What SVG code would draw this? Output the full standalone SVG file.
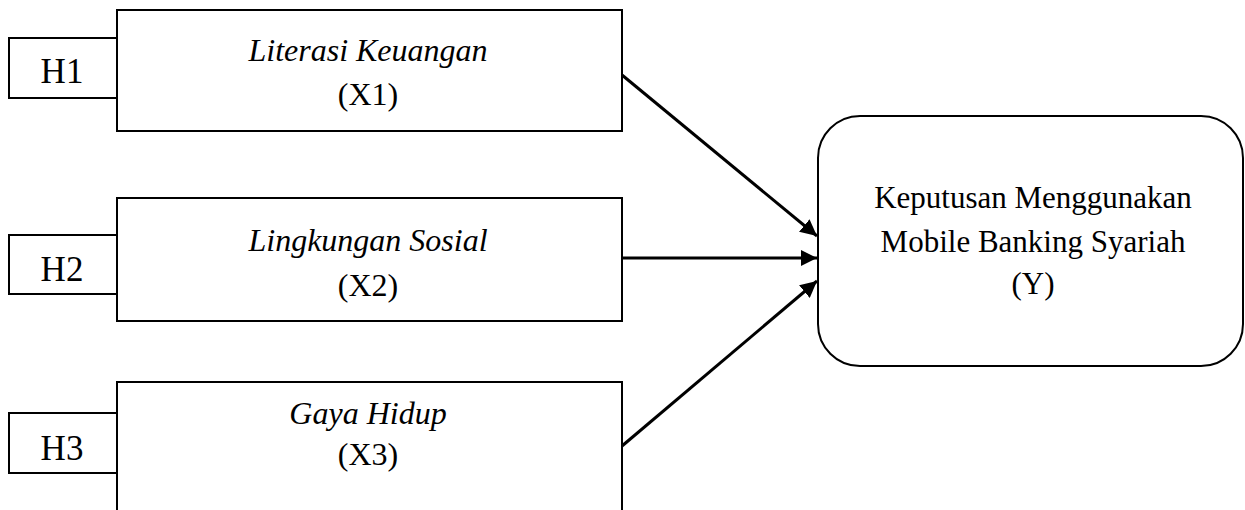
<svg xmlns="http://www.w3.org/2000/svg" width="1245" height="510" viewBox="0 0 1245 510">
<style>
.box{fill:#fff;stroke:#000;stroke-width:2}
.t{font-family:"Liberation Serif","Times New Roman",serif;font-size:32px;fill:#000;text-anchor:middle}
.h{font-size:35px}
.y{font-size:31px}
.i{font-style:italic}
.c{stroke:#000;stroke-width:3;fill:none;marker-end:url(#ah)}
</style>
<defs>
<marker id="ah" viewBox="0 0 10 10" refX="10" refY="5" markerWidth="5.5" markerHeight="5.5" markerUnits="strokeWidth" orient="auto">
<path d="M0,0 L10,5 L0,10 z" fill="#000"/>
</marker>
</defs>
<rect width="1245" height="510" fill="#fff"/>
<g id="connectors">
<line class="c" x1="622" y1="75" x2="817" y2="236"/>
<line class="c" x1="622" y1="258" x2="817" y2="258"/>
<line class="c" x1="622" y1="446" x2="817" y2="281"/>
</g>
<g id="H1"><rect class="box" x="9" y="38" width="108" height="60"/><text class="t h" x="62" y="83">H1</text></g>
<g id="X1"><rect class="box" x="117" y="10" width="505" height="121"/><text class="t i" x="368" y="61">Literasi Keuangan</text><text class="t" x="368" y="105">(X1)</text></g>
<g id="H2"><rect class="box" x="9" y="235" width="108" height="59"/><text class="t h" x="62" y="281">H2</text></g>
<g id="X2"><rect class="box" x="117" y="198" width="505" height="123"/><text class="t i" x="368" y="251">Lingkungan Sosial</text><text class="t" x="368" y="296">(X2)</text></g>
<g id="H3"><rect class="box" x="9" y="413" width="108" height="60"/><text class="t h" x="62" y="460">H3</text></g>
<g id="X3"><rect class="box" x="117" y="382" width="505" height="140"/><text class="t i" x="368" y="424">Gaya Hidup</text><text class="t" x="368" y="465">(X3)</text></g>
<g id="Y"><rect class="box" x="818" y="116" width="425" height="250" rx="42" ry="42"/><text class="t y" x="1033" y="208">Keputusan Menggunakan</text><text class="t y" x="1033" y="252">Mobile Banking Syariah</text><text class="t y" x="1033" y="294">(Y)</text></g>
</svg>
